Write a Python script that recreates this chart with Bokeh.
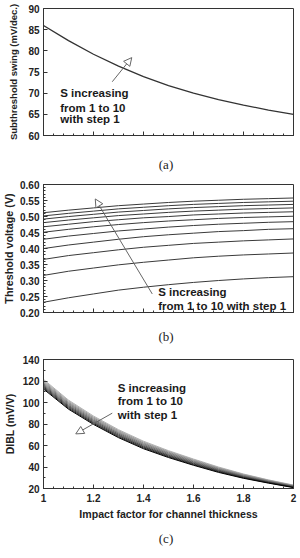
from bokeh.plotting import figure
from bokeh.layouts import column
from bokeh.models import (Range1d, SingleIntervalTicker, Label, Arrow, NormalHead,
                          PrintfTickFormatter, CustomJSTickFormatter)
from bokeh.embed import file_html
from bokeh.resources import INLINE

# Impact factor for channel thickness (shared x values)
impact = [1.0, 1.1, 1.2, 1.3, 1.4, 1.5, 1.6, 1.7, 1.8, 1.9, 2.0]

# (a) subthreshold swing, mV/dec (curves for S = 1..10 coincide)
swing = [86.0, 82.4, 79.2, 76.4, 73.9, 71.8, 70.0, 68.5, 67.2, 66.0, 65.0]

# (b) threshold voltage, V, bottom curve to top curve
vth = [
    [0.232, 0.246, 0.258, 0.270, 0.279, 0.287, 0.294, 0.300, 0.305, 0.309, 0.312],
    [0.316, 0.329, 0.339, 0.349, 0.357, 0.364, 0.371, 0.376, 0.380, 0.383, 0.386],
    [0.366, 0.378, 0.387, 0.396, 0.404, 0.410, 0.416, 0.420, 0.424, 0.427, 0.430],
    [0.400, 0.411, 0.420, 0.429, 0.437, 0.443, 0.448, 0.453, 0.456, 0.460, 0.462],
    [0.429, 0.439, 0.447, 0.455, 0.461, 0.467, 0.472, 0.476, 0.479, 0.482, 0.484],
    [0.451, 0.460, 0.468, 0.475, 0.481, 0.486, 0.490, 0.494, 0.497, 0.499, 0.501],
    [0.468, 0.476, 0.484, 0.490, 0.496, 0.500, 0.505, 0.508, 0.511, 0.513, 0.515],
    [0.481, 0.489, 0.496, 0.503, 0.508, 0.513, 0.517, 0.520, 0.523, 0.525, 0.527],
    [0.492, 0.500, 0.507, 0.514, 0.519, 0.524, 0.528, 0.531, 0.534, 0.536, 0.538],
    [0.502, 0.510, 0.517, 0.524, 0.529, 0.534, 0.538, 0.541, 0.544, 0.546, 0.548],
    [0.512, 0.520, 0.527, 0.534, 0.539, 0.544, 0.548, 0.551, 0.554, 0.556, 0.558],
]

# (c) DIBL, mV/V, S = 1 .. 10
dibl = [
    [121.5, 102.2, 87.4, 74.7, 64.0, 55.2, 47.4, 40.0, 33.5, 28.0, 23.2],
    [120.5, 101.3, 86.5, 73.9, 63.2, 54.5, 46.8, 39.4, 33.1, 27.7, 22.9],
    [119.5, 100.3, 85.7, 73.1, 62.4, 53.8, 46.1, 38.9, 32.6, 27.3, 22.7],
    [118.5, 99.4, 84.8, 72.2, 61.7, 53.1, 45.5, 38.3, 32.2, 27.0, 22.4],
    [117.5, 98.5, 83.9, 71.4, 60.9, 52.4, 44.8, 37.8, 31.7, 26.7, 22.1],
    [116.5, 97.5, 83.1, 70.6, 60.1, 51.6, 44.2, 37.2, 31.3, 26.3, 21.9],
    [115.5, 96.6, 82.2, 69.8, 59.3, 50.9, 43.5, 36.7, 30.8, 26.0, 21.6],
    [114.5, 95.7, 81.3, 69.0, 58.6, 50.2, 42.9, 36.1, 30.4, 25.7, 21.3],
    [113.5, 94.7, 80.5, 68.1, 57.8, 49.5, 42.2, 35.6, 29.9, 25.3, 21.1],
    [112.5, 93.8, 79.6, 67.3, 57.0, 48.8, 41.6, 35.0, 29.5, 25.0, 20.8],
]
dibl_colors = ["#b4b4b4", "#a4a4a4", "#949494", "#848484", "#747474",
               "#626262", "#4e4e4e", "#393939", "#222222", "#000000"]

note_lines = ["S increasing", "from 1 to 10", "with step 1"]
captions = ["(a)", "(b)", "(c)"]

SANS = "Liberation Sans"
SERIF = "Liberation Serif"


def panel(height, top, bottom, left, right, y0, y1, ylabel, yint, yminor,
          label_standoff, ylabel_size):
    p = figure(width=300, height=height, output_backend="svg", toolbar_location=None,
               x_range=Range1d(1, 2), y_range=Range1d(y0, y1),
               min_border_top=top, min_border_bottom=bottom,
               min_border_left=left, min_border_right=right)
    p.xgrid.visible = False
    p.ygrid.visible = False
    p.outline_line_color = "#333333"
    p.outline_line_width = 1
    p.background_fill_color = "white"
    p.border_fill_color = "white"
    for ax in (p.xaxis[0], p.yaxis[0]):
        ax.axis_line_color = "#333333"
        ax.major_tick_in = 4
        ax.major_tick_out = 0
        ax.minor_tick_in = 2
        ax.minor_tick_out = 0
        ax.major_tick_line_color = "#333333"
        ax.minor_tick_line_color = "#333333"
        ax.major_label_text_font = SANS
        ax.major_label_text_font_style = "bold"
        ax.major_label_text_font_size = "10px"
        ax.major_label_text_color = "#222222"
        ax.major_label_standoff = 4
        ax.axis_label_text_font = SANS
        ax.axis_label_text_font_style = "bold"
        ax.axis_label_text_color = "#222222"
    p.xaxis.ticker = SingleIntervalTicker(interval=0.2, num_minor_ticks=5)
    p.yaxis.ticker = SingleIntervalTicker(interval=yint, num_minor_ticks=yminor)
    p.yaxis.axis_label = ylabel
    p.yaxis.axis_label_standoff = label_standoff
    p.yaxis.axis_label_text_font_size = ylabel_size
    return p


def caption_strip(height, centre_from_top, text):
    # a bare strip under each panel that carries its "(a)"-style caption
    c = figure(width=300, height=height, output_backend="svg", toolbar_location=None,
               x_range=Range1d(0, 300), y_range=Range1d(0, height),
               x_axis_type=None, y_axis_type=None, min_border=0)
    c.xgrid.visible = False
    c.ygrid.visible = False
    c.outline_line_color = None
    c.add_layout(Label(x=147, y=height - centre_from_top, text=text, text_font=SERIF,
                       text_font_size="13px", text_color="#222222",
                       text_baseline="middle", text_align="center"))
    return c


def note(p, x, ys, lines):
    for y, t in zip(ys, lines):
        p.add_layout(Label(x=x, y=y, text=t, text_font=SANS, text_font_style="bold",
                           text_font_size="11.5px", text_color="#1a1a1a",
                           text_baseline="middle", text_align="left"))


def pointer(p, x0, y0, x1, y1):
    p.add_layout(Arrow(x_start=x0, y_start=y0, x_end=x1, y_end=y1,
                       line_color="#666666", line_width=1,
                       end=NormalHead(size=8, fill_color="white",
                                      line_color="#666666", line_width=1)))


blank = CustomJSTickFormatter(code="return ''")

# ---- (a) subthreshold swing
pa = panel(150, 8, 15, 38, 7, 60, 90, "Subthreshold swing (mV/dec.)", 5, 0, 6, "9.5px")
pa.xaxis.formatter = blank
pa.line(impact, swing, line_color="#333333", line_width=1.3)
note(pa, 1.067, [70.0, 66.5, 63.8], note_lines)
pointer(pa, 1.275, 72.7, 1.353, 78.4)
ca = caption_strip(30, 14, captions[0])

# ---- (b) threshold voltage (upper limit nudged so the 0.60 tick survives rounding)
pb = panel(146, 4, 14, 38, 7, 0.2, 0.6002, "Threshold voltage (V)", 0.05, 5, 2, "10.8px")
pb.xaxis.formatter = blank
pb.yaxis.formatter = PrintfTickFormatter(format="%.2f")
for curve in vth:
    pb.line(impact, curve, line_color="#3a3a3a", line_width=1)
pointer(pb, 1.435, 0.258, 1.207, 0.555)
note(pb, 1.459, [0.2634, 0.2197], [note_lines[0], note_lines[1] + " " + note_lines[2]])
cb = caption_strip(24, 10, captions[1])

# ---- (c) DIBL
pc = panel(175, 9, 37, 36, 5, 20, 140, "DIBL (mV/V)", 20, 2, 4, "10.5px")
pc.xaxis.formatter = CustomJSTickFormatter(code="return String(+tick.toFixed(2))")
pc.xaxis.axis_label = "Impact factor for channel thickness"
pc.xaxis.axis_label_text_font_size = "10.6px"
pc.xaxis.axis_label_standoff = 3
pc.xaxis.major_label_standoff = 5
for curve, col in zip(dibl, dibl_colors):
    pc.line(impact, curve, line_color=col, line_width=1.0)
note(pc, 1.297, [113.8, 101.3, 88.0], note_lines)
pointer(pc, 1.275, 90.1, 1.129, 70.8)
cc = caption_strip(33, 13, captions[2])

layout = column(pa, ca, pb, cb, pc, cc, spacing=0)
open("out.html", "w").write(file_html(layout, INLINE))
